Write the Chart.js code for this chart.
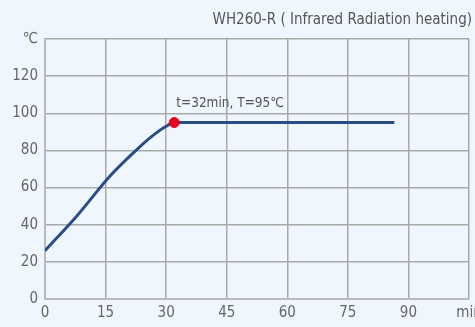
<!DOCTYPE html>
<html>
<head>
<meta charset="utf-8">
<script src="https://cdn.jsdelivr.net/npm/chart.js@4/dist/chart.umd.min.js"></script>
<style>
  html, body { margin: 0; padding: 0; background: #eff6fd; overflow: hidden; }
  #wrap { width: 475px; height: 327px; }
</style>
</head>
<body>
<div id="wrap"><canvas id="heatChart" width="475" height="327"></canvas></div>
<script>
// Heating curve data (time in min, temperature in ℃)
const times = [0, 8, 16, 23, 27, 30, 32, 60, 86.5];
const temps = [26, 45, 66, 81, 88.5, 93, 95, 95, 95];

// Marked point
const markTime = [32];
const markTemp = [95];
const markLabel = "t=32min, T=95℃";

const xTicks = [0, 15, 30, 45, 60, 75, 90, 105];
const yTicks = [0, 20, 40, 60, 80, 100, 120, 140];
const xUnit = "min";
const yUnit = "℃";
const chartTitle = "WH260-R ( Infrared Radiation heating)";

const fontFamily = "'DejaVu Sans Condensed', 'Noto Sans', sans-serif";
const gridColor = "#a9a9a9";

// Draws the text next to the red marker
const markLabelPlugin = {
  id: "markLabel",
  afterDatasetsDraw(chart) {
    const meta = chart.getDatasetMeta(1);
    const pt = meta.data[0];
    if (!pt) return;
    const ctx = chart.ctx;
    ctx.save();
    ctx.font = "13.5px " + fontFamily;
    ctx.fillStyle = "#555";
    ctx.textAlign = "left";
    ctx.textBaseline = "middle";
    ctx.fillText(markLabel, pt.x + 2, pt.y - 19);
    ctx.restore();
  }
};

new Chart(document.getElementById("heatChart"), {
  type: "line",
  data: {
    datasets: [
      {
        data: times.map((t, i) => ({ x: t, y: temps[i] })),
        borderColor: "#2c4d84",
        borderWidth: 3,
        pointRadius: 0,
        cubicInterpolationMode: "monotone",
        fill: false,
        order: 2
      },
      {
        data: markTime.map((t, i) => ({ x: t, y: markTemp[i] })),
        showLine: false,
        pointRadius: 5,
        pointBackgroundColor: "#e8001c",
        pointBorderColor: "#e8001c",
        order: 1
      }
    ]
  },
  options: {
    responsive: false,
    animation: false,
    layout: { padding: { top: 6, right: 3, left: 0, bottom: 0 } },
    plugins: {
      legend: { display: false },
      tooltip: { enabled: false },
      title: {
        display: true,
        text: chartTitle,
        align: "end",
        color: "#555",
        font: { family: fontFamily, size: 15, weight: "normal", lineHeight: 1.2 },
        padding: { top: 5, bottom: 10 }
      }
    },
    scales: {
      x: {
        type: "linear",
        min: 0,
        max: 105,
        afterBuildTicks: scale => { scale.ticks = xTicks.map(v => ({ value: v })); },
        afterFit: scale => { scale.paddingLeft = 0; scale.paddingRight = 0; scale.height = 28; },
        ticks: {
          color: "#666",
          padding: 5,
          maxRotation: 0,
          autoSkip: false,
          font: { family: fontFamily, size: 15 },
          callback: v => (v === 105 ? xUnit : v)
        },
        grid: { color: gridColor, lineWidth: 1.5, drawTicks: false },
        border: { color: "#bbb", width: 2 }
      },
      y: {
        min: 0,
        max: 140,
        afterBuildTicks: scale => { scale.ticks = yTicks.map(v => ({ value: v })); },
        afterFit: scale => { scale.paddingTop = 0; scale.paddingBottom = 0; scale.width = 45; },
        ticks: {
          color: "#666",
          padding: 7,
          font: { family: fontFamily, size: 15 },
          callback: v => (v === 140 ? yUnit : v)
        },
        grid: { color: gridColor, lineWidth: 1.5, drawTicks: false },
        border: { color: "#bbb", width: 2 }
      }
    }
  },
  plugins: [markLabelPlugin]
});
</script>
</body>
</html>
